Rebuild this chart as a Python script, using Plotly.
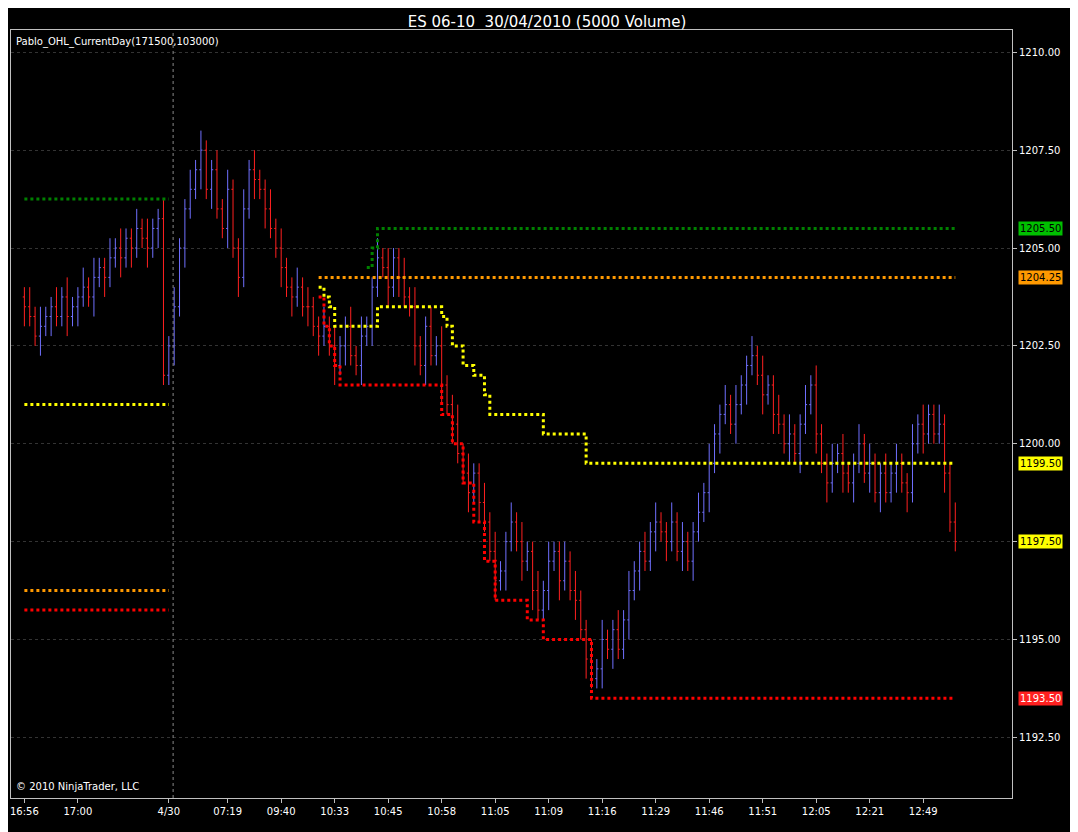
import plotly.graph_objects as go

# bar closes, one per 5000-volume bar
closes = [
    1203.5, 1203.25, 1202.75, 1203.0, 1203.25, 1203.5, 1203.25, 1203.75, 1203.25, 1203.5,
    1203.75, 1204.0, 1203.75, 1204.25, 1204.5, 1204.25, 1204.75, 1205.0, 1204.75,
    1205.25, 1205.0, 1205.5, 1205.25, 1205.0, 1205.5, 1205.75,
    1201.75, 1202.5, 1203.5,
    1205.0, 1206.0, 1206.5, 1207.0, 1207.5, 1206.5,
    1207.0, 1206.0, 1205.5, 1206.5, 1205.0, 1204.25,
    1206.0, 1207.0, 1206.75, 1206.5, 1206.0,
    1205.5, 1205.0, 1204.5, 1204.0, 1203.75, 1204.0, 1203.5,
    1203.5, 1203.0, 1202.75, 1203.0, 1202.5, 1202.0,
    1202.5, 1203.0, 1202.25, 1202.0, 1202.75, 1203.0,
    1204.0, 1204.75, 1204.5, 1204.0, 1204.75, 1204.25, 1203.75,
    1203.5, 1202.5, 1202.0, 1203.0, 1202.25, 1202.5,
    1201.5, 1201.0, 1200.5, 1199.75, 1199.25, 1198.75, 1199.25,
    1198.5, 1198.0, 1197.25, 1196.5, 1196.75, 1197.5,
    1198.0, 1197.5, 1197.0, 1197.25, 1196.25, 1195.75,
    1196.25, 1197.0, 1197.25, 1196.5, 1197.0, 1196.25,
    1196.0, 1195.25, 1194.5, 1194.0, 1194.25,
    1195.0, 1194.75, 1195.25, 1194.75, 1195.5,
    1196.25, 1196.75, 1197.25, 1197.0, 1197.75, 1198.0, 1197.75,
    1197.5, 1198.0, 1197.25, 1197.5, 1197.0, 1197.75, 1198.25,
    1198.75, 1199.5, 1200.25, 1200.75, 1201.0, 1200.5, 1201.0,
    1201.5, 1202.0, 1202.25, 1201.75, 1201.25, 1201.5, 1200.75,
    1200.5, 1200.0, 1200.25, 1199.75, 1200.5, 1201.0, 1201.5,
    1200.25, 1199.5, 1199.0, 1199.5, 1199.75, 1199.25, 1199.0,
    1199.5, 1200.0, 1199.25, 1199.5, 1198.75, 1199.25, 1198.75,
    1199.25, 1199.5, 1199.0, 1198.75, 1200.0, 1200.5, 1200.25,
    1200.75, 1200.25, 1200.5, 1199.25, 1198.0, 1197.5,
]
opens = [1203.75] + closes[:-1]
# extra ticks (0.25) beyond the body, read per bar
upper_ticks = [1, 2, 1, 2, 1, 1, 2, 1, 2, 1] * 17 + [1, 2, 1, 1, 2, 1][:len(closes) - 170]
lower_ticks = [2, 1, 1, 2, 1, 2, 1, 1, 2, 1] * 17 + [1, 1, 2, 1, 1, 2][:len(closes) - 170]
highs = [max(o, c) + 0.25 * u for o, c, u in zip(opens, closes, upper_ticks)]
lows = [min(o, c) - 0.25 * d for o, c, d in zip(opens, closes, lower_ticks)]

tick_pos = [0, 10, 27, 38, 48, 58, 68, 78, 88, 98, 108, 118, 128, 138, 148, 158, 168]
tick_text = ["16:56", "17:00", "4/30", "07:19", "09:40", "10:33", "10:45", "10:58",
             "11:05", "11:09", "11:16", "11:29", "11:46", "11:51", "12:05", "12:21", "12:49"]

# Pablo_OHL indicator breakpoints (bar index, price)
prev_x = [0, 27]
prev_high = [1206.25, 1206.25]
prev_open = [1196.25, 1196.25]
prev_low = [1195.75, 1195.75]
prev_mid = [1201.0, 1201.0]

high_x = [64, 65, 66, 174]
high_y = [1204.5, 1205.0, 1205.5, 1205.5]
open_x = [55, 174]
open_y = [1204.25, 1204.25]
low_x = [55, 56, 57, 58, 59, 76, 78, 80, 82, 84, 86, 88, 93, 94, 97, 105, 106, 174]
low_y = [1203.75, 1203.0, 1202.5, 1202.0, 1201.5, 1201.5, 1200.75, 1200.0, 1199.0,
         1198.0, 1197.0, 1196.0, 1196.0, 1195.5, 1195.0, 1195.0, 1193.5, 1193.5]
mid_x = [55, 56, 57, 58, 64, 66, 77, 78, 79, 80, 82, 84, 86, 87, 88, 95, 97, 103, 105, 174]
mid_y = [1204.0, 1203.75, 1203.5, 1203.0, 1203.0, 1203.5, 1203.5, 1203.25, 1203.0, 1202.5,
         1202.0, 1201.75, 1201.25, 1200.75, 1200.75, 1200.75, 1200.25, 1200.25, 1199.5, 1199.5]

fig = go.Figure()
fig.add_trace(go.Ohlc(
    x=list(range(len(closes))), open=opens, high=highs, low=lows, close=closes,
    increasing=dict(line=dict(color="#7070ff", width=1)),
    decreasing=dict(line=dict(color="#ff2020", width=1)),
    tickwidth=0.3, hoverinfo="skip",
))


def dots(xs, ys, colour):
    fig.add_trace(go.Scatter(x=xs, y=ys, mode="lines", line_shape="hv",
                             line=dict(color=colour, width=3, dash="dot"), hoverinfo="skip"))


dots(prev_x, prev_high, "#008000")
dots(prev_x, prev_open, "#ff9900")
dots(prev_x, prev_low, "#ff0000")
dots(prev_x, prev_mid, "#ffff00")
dots(high_x, high_y, "#008000")
dots(open_x, open_y, "#ff9900")
dots(low_x, low_y, "#ff0000")
dots(mid_x, mid_y, "#ffff00")

fig.add_shape(type="line", x0=27.8, x1=27.8, y0=0, y1=1, yref="paper",
              line=dict(color="#888888", width=1, dash="dot"))

tags = [(1205.5, "#00c000", "black"), (1204.25, "#ff9900", "black"),
        (1199.5, "#ffff00", "black"), (1197.5, "#ffff00", "black"), (1193.5, "#ff2020", "white")]
for price, bg, fg in tags:
    fig.add_annotation(x=1.006, xref="paper", y=price, text=f"{price:.2f}", showarrow=False,
                       xanchor="left", bgcolor=bg, font=dict(color=fg, size=10),
                       borderpad=1)

fig.add_annotation(x=0.003, y=0.995, xref="paper", yref="paper", xanchor="left", yanchor="top",
                   text="Pablo_OHL_CurrentDay(171500,103000)", showarrow=False,
                   font=dict(color="white", size=10))
fig.add_annotation(x=0.003, y=0.005, xref="paper", yref="paper", xanchor="left", yanchor="bottom",
                   text="© 2010 NinjaTrader, LLC", showarrow=False,
                   font=dict(color="white", size=10))

fig.update_layout(
    width=1078, height=832,
    title=dict(text="ES 06-10  30/04/2010 (5000 Volume)", x=0.5, y=0.99,
               font=dict(color="white", size=15)),
    paper_bgcolor="black", plot_bgcolor="black",
    font=dict(family="DejaVu Sans", color="white", size=10),
    showlegend=False,
    margin=dict(l=3, r=74, t=22, b=42),
    xaxis=dict(range=[-2.5, 184.6], tickvals=tick_pos, ticktext=tick_text,
               rangeslider=dict(visible=False), showgrid=False, zeroline=False,
               showline=True, linecolor="#c0c0c0", mirror=True, ticks="outside",
               tickcolor="#c0c0c0", ticklen=4),
    yaxis=dict(range=[1190.95, 1210.57], side="right", dtick=2.5, tickformat=".2f",
               showgrid=True, gridcolor="#333333", griddash="dot", zeroline=False,
               showline=True, linecolor="#c0c0c0", mirror=True, ticks="outside",
               tickcolor="#c0c0c0", ticklen=4),
)

fig.write_html("out.html")
